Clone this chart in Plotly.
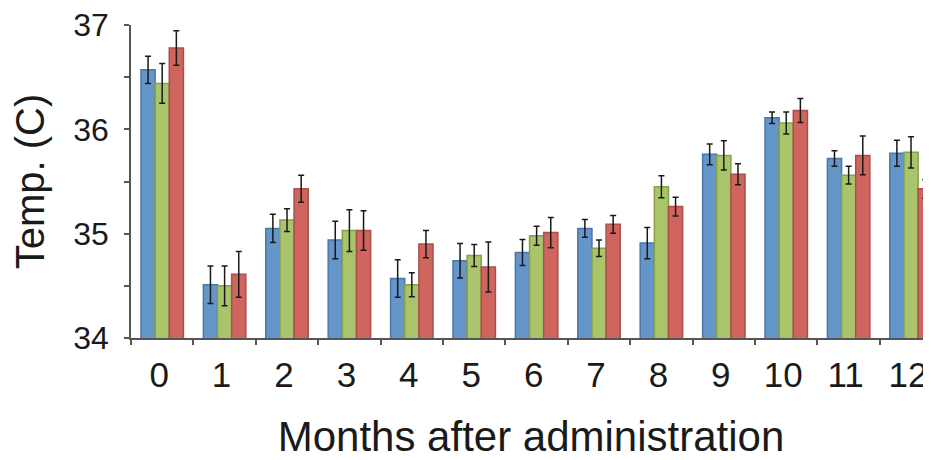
import plotly.graph_objects as go

months = ["0", "1", "2", "3", "4", "5", "6", "7", "8", "9", "10", "11", "12"]

blue = [36.57, 34.51, 35.05, 34.94, 34.57, 34.74, 34.82, 35.05, 34.91, 35.76, 36.11, 35.72, 35.77]
blue_err = [0.13, 0.18, 0.135, 0.18, 0.18, 0.165, 0.125, 0.085, 0.15, 0.10, 0.055, 0.075, 0.125]

green = [36.44, 34.50, 35.13, 35.03, 34.51, 34.79, 34.98, 34.86, 35.45, 35.75, 36.06, 35.56, 35.78]
green_err = [0.19, 0.19, 0.11, 0.20, 0.115, 0.105, 0.09, 0.08, 0.105, 0.14, 0.105, 0.085, 0.15]

red = [36.78, 34.61, 35.43, 35.03, 34.90, 34.68, 35.01, 35.09, 35.26, 35.57, 36.18, 35.75, 35.43]
red_err = [0.165, 0.22, 0.13, 0.19, 0.13, 0.24, 0.145, 0.085, 0.09, 0.10, 0.115, 0.185, 0.09]

y_ticks = [34, 34.5, 35, 35.5, 36, 36.5, 37]
y_labels = ["34", "", "35", "", "36", "", "37"]

series = [
    (blue, blue_err, "#6596CA", "#4B76AA"),
    (green, green_err, "#A9C46B", "#87A04A"),
    (red, red_err, "#D0645F", "#A9504B"),
]

fig = go.Figure()
for vals, errs, fill, edge in series:
    fig.add_trace(go.Bar(
        x=months, y=vals,
        marker=dict(color=fill, line=dict(color=edge, width=1.5)),
        error_y=dict(type="data", array=errs, visible=True,
                     color="#1a1a1a", thickness=1.5, width=3),
        showlegend=False,
    ))

# page body has an 8px margin, so the figure is sized/offset to compensate
fig.update_layout(
    width=923, height=452,
    margin=dict(l=123, r=0, t=17, b=122),
    barmode="group", bargap=0.32, bargroupgap=0,
    plot_bgcolor="white", paper_bgcolor="white",
    font=dict(family="Liberation Sans, Arial, sans-serif", color="#1a1a1a"),
)
fig.update_xaxes(
    type="category", range=[-0.5, 12.32], automargin=False,
    showline=True, linecolor="#555555", linewidth=1.5,
    ticks="outside", tickson="boundaries", ticklen=5, tickcolor="#555555", tickwidth=1.5,
    tickfont=dict(family="Liberation Sans, Arial", size=35),
    ticklabelstandoff=5, ticklabelshift=-3,
    showgrid=False,
    title=dict(text="Months after administration",
               font=dict(family="Liberation Sans, Arial", size=42), standoff=39),
)
fig.update_yaxes(
    range=[34, 37], tickvals=y_ticks, ticktext=y_labels, automargin=False,
    showline=True, linecolor="#555555", linewidth=1.5,
    ticks="outside", ticklen=5, tickcolor="#555555", tickwidth=1.5,
    tickfont=dict(family="Liberation Sans, Arial", size=32),
    ticklabelstandoff=9, ticklabeloverflow="allow",
    showgrid=False, zeroline=False,
    title=dict(text="Temp. (C)", font=dict(family="Liberation Sans, Arial", size=40), standoff=22),
)

fig.write_html("out.html")
